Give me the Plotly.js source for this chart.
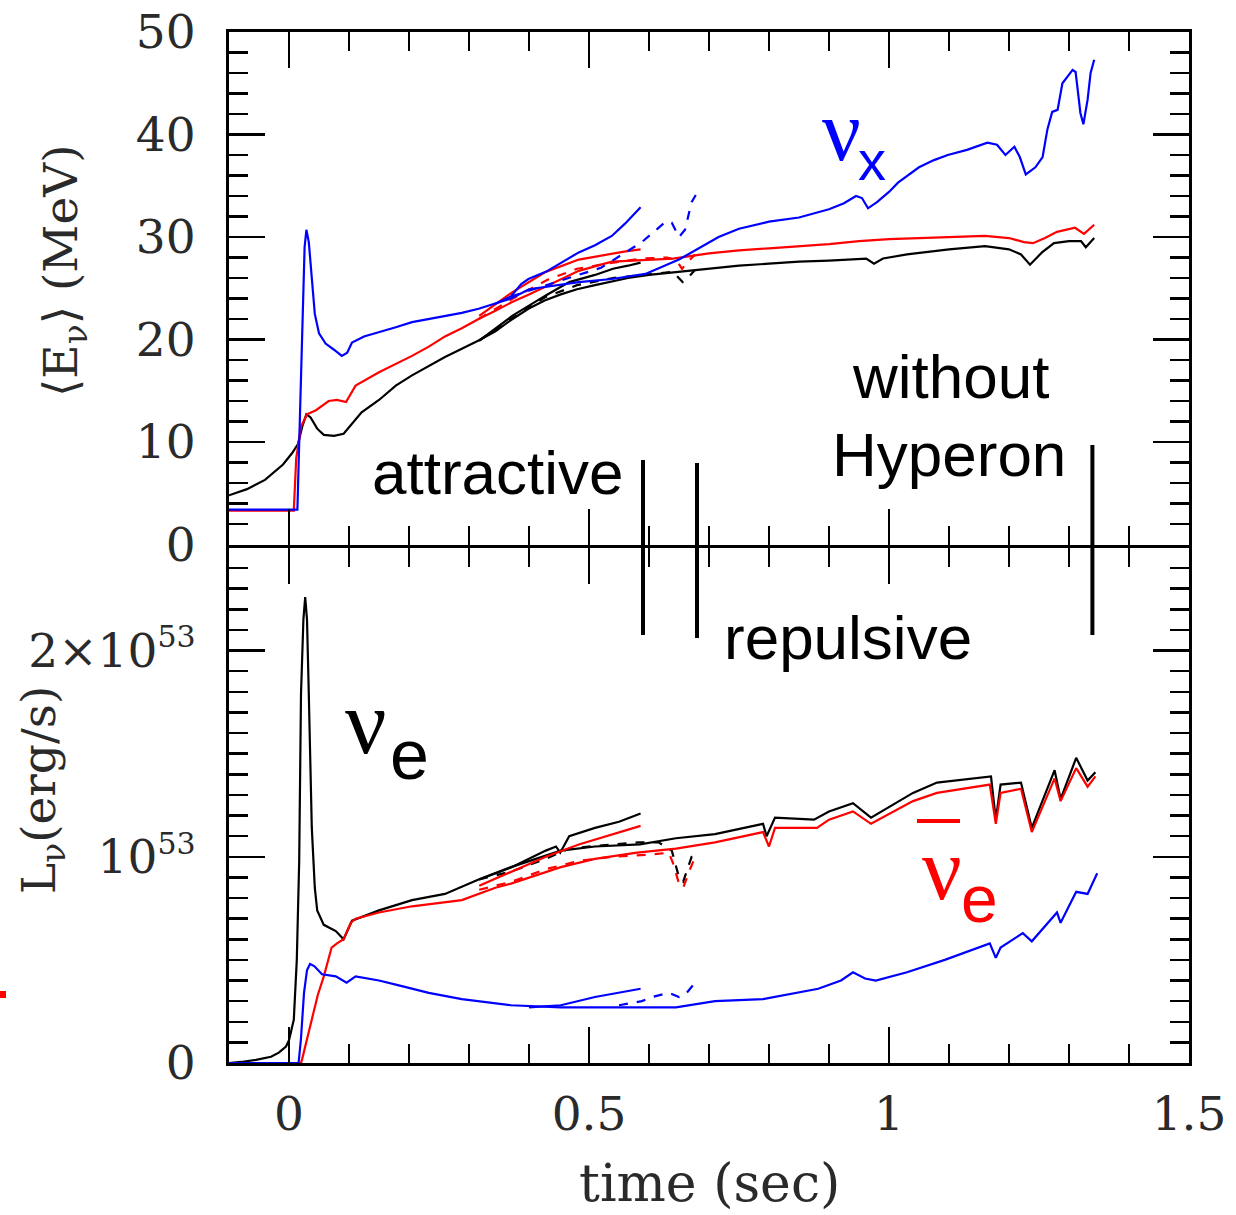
<!DOCTYPE html>
<html><head><meta charset="utf-8">
<script src="https://cdn.plot.ly/plotly-3.0.1.min.js"></script>
<style>html,body{margin:0;padding:0;background:#fff}</style>
</head><body><div id="chart" style="width:1236px;height:1215px"></div>
<script>
// ---------------- DATA ----------------
// Collapse (black-hole formation) times marked by vertical bars
const collapseTimes = [0.59, 0.68, 1.339];

// Mean energy <E> (MeV): nu_e (black)
const tE_nue_noHyp = [-0.1,-0.07,-0.04,-0.01,0.005,0.015,0.022,0.029,0.036,0.047,0.058,0.075,0.091,0.103,0.121,0.15,0.178,0.205,0.233,0.26,0.288,0.316,0.344,0.37,0.399,0.426,0.453,0.48,0.51,0.54,0.565,0.6,0.65,0.7,0.75,0.8,0.85,0.9,0.95,0.962,0.975,0.99,1.03,1.1,1.16,1.2,1.22,1.235,1.255,1.275,1.3,1.32,1.328,1.335,1.342];
const E_nue_noHyp  = [4.8,5.4,6.3,7.8,8.9,9.8,11.5,12.7,12.4,11.3,10.7,10.6,10.8,11.6,12.9,14.1,15.5,16.5,17.4,18.3,19.1,19.9,20.8,21.9,23.0,23.8,24.4,24.9,25.3,25.7,26.0,26.3,26.6,26.9,27.2,27.4,27.6,27.7,27.9,27.9,27.4,27.9,28.3,28.8,29.1,28.8,28.3,27.3,28.5,29.4,29.6,29.6,29.0,29.5,29.9];
const tE_nue_attr = [0.317,0.372,0.428,0.445,0.452,0.467,0.51,0.54,0.565,0.586];
const E_nue_attr  = [19.9,22.3,24.3,24.9,25.1,25.6,26.3,26.9,27.2,27.5];
const tE_nue_rep  = [0.317,0.37,0.426,0.48,0.54,0.6,0.64,0.656,0.666,0.677];
const E_nue_rep   = [19.9,22.0,24.1,25.3,26.0,26.4,26.6,25.6,26.1,26.8];

// Mean energy: anti-nu_e (red)
const tE_anue_noHyp = [-0.1,0.008,0.012,0.02,0.03,0.045,0.066,0.08,0.095,0.111,0.15,0.178,0.205,0.233,0.26,0.288,0.316,0.344,0.37,0.4,0.428,0.483,0.538,0.594,0.64,0.7,0.75,0.8,0.85,0.9,0.95,1.0,1.05,1.1,1.16,1.2,1.225,1.24,1.26,1.28,1.31,1.325,1.342];
const E_anue_noHyp  = [3.3,3.3,8.4,11.5,12.7,13.1,14.0,14.1,13.9,15.5,16.8,17.6,18.4,19.3,20.3,21.1,22.0,22.8,23.6,24.4,25.2,26.7,27.6,27.8,27.9,28.4,28.7,28.9,29.1,29.3,29.6,29.8,29.9,30.0,30.1,29.9,29.5,29.4,29.9,30.5,30.9,30.3,31.2];
const tE_anue_attr = [0.317,0.372,0.428,0.483,0.561,0.586];
const E_anue_attr  = [22.3,24.6,26.6,27.8,28.6,28.8];
const tE_anue_rep  = [0.316,0.37,0.43,0.48,0.54,0.59,0.63,0.645,0.655,0.665,0.677];
const E_anue_rep   = [22.0,23.9,25.8,26.9,27.5,27.9,28.0,27.8,26.9,27.6,28.3];

// Mean energy: nu_x (blue)
const tE_nux_noHyp = [-0.1,0.014,0.018,0.022,0.026,0.029,0.033,0.038,0.043,0.05,0.061,0.075,0.088,0.097,0.105,0.125,0.15,0.178,0.205,0.233,0.26,0.288,0.316,0.344,0.37,0.4,0.483,0.538,0.594,0.65,0.716,0.75,0.78,0.8,0.85,0.88,0.9,0.925,0.945,0.955,0.965,0.98,1.0,1.015,1.05,1.075,1.098,1.13,1.164,1.18,1.194,1.209,1.218,1.228,1.244,1.256,1.264,1.272,1.281,1.289,1.306,1.311,1.319,1.324,1.331,1.336,1.342];
const E_nux_noHyp  = [3.4,3.4,12,22,29,30.7,29.5,26,22.5,20.6,19.6,19.0,18.4,18.7,19.7,20.3,20.7,21.2,21.7,22.0,22.3,22.6,23.0,23.5,24.0,24.9,25.6,25.9,26.4,27.8,30.0,30.8,31.2,31.5,31.9,32.4,32.7,33.3,34.0,33.8,32.8,33.4,34.4,35.3,36.8,37.5,38.0,38.5,39.2,39.0,38.0,38.8,37.8,36.1,36.8,37.8,40.5,42.2,42.4,45.0,46.3,46.1,42.1,41.0,43.4,46.0,47.3];
const tE_nux_attr = [0.344,0.37,0.387,0.399,0.428,0.455,0.483,0.51,0.538,0.56,0.586];
const E_nux_attr  = [23.5,24.2,25.4,25.9,26.6,27.5,28.5,29.2,30.1,31.3,32.9];
const tE_nux_rep  = [0.37,0.43,0.48,0.52,0.55,0.588,0.61,0.628,0.638,0.65,0.66,0.671,0.678];
const E_nux_rep   = [24.2,25.3,26.2,27.0,28.1,29.5,30.6,31.5,31.4,30.0,30.7,33.4,34.1];

// Luminosity (units of 1e53 erg/s): nu_e (black)
const tL_nue_noHyp = [-0.1,-0.08,-0.055,-0.03,-0.017,-0.005,0.0,0.008,0.013,0.017,0.02,0.024,0.027,0.03,0.033,0.038,0.043,0.047,0.058,0.078,0.091,0.105,0.15,0.205,0.26,0.316,0.37,0.4,0.453,0.51,0.585,0.645,0.71,0.79,0.796,0.81,0.875,0.9,0.94,0.97,1.04,1.08,1.17,1.178,1.186,1.22,1.238,1.276,1.286,1.312,1.331,1.344];
const L_nue_noHyp  = [0.0,0.005,0.015,0.03,0.05,0.08,0.11,0.21,0.5,0.98,1.79,2.15,2.26,2.15,1.79,1.14,0.85,0.74,0.67,0.64,0.60,0.69,0.74,0.79,0.82,0.89,0.95,0.98,1.03,1.05,1.06,1.09,1.11,1.16,1.10,1.19,1.18,1.22,1.26,1.19,1.31,1.36,1.39,1.18,1.35,1.36,1.14,1.42,1.28,1.48,1.37,1.41];
const tL_nue_attr = [0.317,0.372,0.428,0.445,0.452,0.467,0.51,0.55,0.586];
const L_nue_attr  = [0.89,0.95,1.03,1.05,1.02,1.10,1.14,1.17,1.21];
const tL_nue_rep  = [0.317,0.372,0.428,0.467,0.538,0.583,0.616,0.638,0.65,0.657,0.671,0.677];
const L_nue_rep   = [0.89,0.93,0.99,1.04,1.06,1.07,1.07,1.03,0.90,0.88,1.0,1.02];

// Luminosity: anti-nu_e (red)
const tL_anue_noHyp = [-0.1,0.02,0.022,0.03,0.038,0.048,0.058,0.065,0.071,0.08,0.091,0.103,0.111,0.15,0.205,0.288,0.344,0.37,0.4,0.453,0.51,0.58,0.645,0.71,0.79,0.8,0.81,0.88,0.9,0.94,0.97,1.04,1.08,1.168,1.178,1.186,1.22,1.238,1.276,1.286,1.312,1.331,1.344];
const L_anue_noHyp  = [0,0,0.02,0.12,0.22,0.33,0.42,0.50,0.56,0.58,0.60,0.68,0.70,0.73,0.76,0.79,0.85,0.87,0.90,0.95,0.99,1.02,1.04,1.07,1.12,1.05,1.14,1.14,1.18,1.22,1.16,1.27,1.31,1.35,1.16,1.31,1.33,1.12,1.38,1.27,1.43,1.34,1.39];
const tL_anue_attr = [0.317,0.372,0.428,0.483,0.538,0.586];
const L_anue_attr  = [0.86,0.93,1.0,1.06,1.11,1.15];
const tL_anue_rep  = [0.317,0.372,0.428,0.483,0.538,0.6,0.633,0.64,0.65,0.657,0.667,0.677];
const L_anue_rep   = [0.84,0.88,0.94,0.98,1.0,1.01,1.02,0.97,0.87,0.85,0.93,1.0];

// Luminosity: nu_x (blue)
const tL_nux_noHyp = [-0.1,0.016,0.02,0.025,0.03,0.035,0.042,0.055,0.078,0.096,0.111,0.15,0.178,0.233,0.288,0.37,0.453,0.565,0.645,0.71,0.79,0.882,0.92,0.94,0.96,0.978,1.03,1.093,1.168,1.178,1.186,1.223,1.238,1.28,1.286,1.312,1.331,1.347];
const L_nux_noHyp  = [0,0,0.12,0.34,0.45,0.48,0.47,0.43,0.42,0.39,0.42,0.40,0.38,0.34,0.31,0.28,0.27,0.27,0.27,0.30,0.31,0.36,0.40,0.44,0.41,0.40,0.44,0.50,0.58,0.51,0.56,0.63,0.59,0.73,0.68,0.83,0.82,0.92];
const tL_nux_attr = [0.40,0.453,0.51,0.55,0.586];
const L_nux_attr  = [0.27,0.28,0.32,0.34,0.36];
const tL_nux_rep  = [0.55,0.588,0.605,0.633,0.65,0.66,0.677];
const L_nux_rep   = [0.28,0.30,0.32,0.34,0.32,0.33,0.39];

// Axis ticks
const xTickVals = [0, 0.5, 1, 1.5];
const xTickText = ['0', '0.5', '1', '1.5'];
const eTickVals = [0, 10, 20, 30, 40, 50];
const eTickText = ['0', '10', '20', '30', '40', '50'];
const lTickVals = [0, 1, 2];
const lTickText = ['0', '10<sup><span style="font-size:30px">53</span></sup>', '2×10<sup><span style="font-size:30px">53</span></sup>'];

// ---------------- STYLE / LAYOUT ----------------
const BLACK = '#000000', RED = '#ff0000', BLUE = '#0000ff';
const PL = 229, PR = 1189, PT = 32, PB = 1063;
const fx = p => (p - PL) / (PR - PL);
const fy = p => (PB - p) / (PB - PT);
// panels meet at y=546; offset so the two frame lines merge into one
const splitLow = fy(547.5), splitHigh = fy(544.5);

function tr(x, y, color, dash, top) {
  return {x: x, y: y, type: 'scatter', mode: 'lines',
    xaxis: top ? 'x2' : 'x', yaxis: top ? 'y2' : 'y',
    line: {color: color, width: 2.2, dash: dash || 'solid'},
    hoverinfo: 'skip', showlegend: false};
}

const traces = [
  tr(tE_nue_noHyp, E_nue_noHyp, BLACK, 'solid', true),
  tr(tE_nue_attr, E_nue_attr, BLACK, 'solid', true),
  tr(tE_nue_rep, E_nue_rep, BLACK, 'dash', true),
  tr(tE_anue_noHyp, E_anue_noHyp, RED, 'solid', true),
  tr(tE_anue_attr, E_anue_attr, RED, 'solid', true),
  tr(tE_anue_rep, E_anue_rep, RED, 'dash', true),
  tr(tE_nux_noHyp, E_nux_noHyp, BLUE, 'solid', true),
  tr(tE_nux_attr, E_nux_attr, BLUE, 'solid', true),
  tr(tE_nux_rep, E_nux_rep, BLUE, 'dash', true),
  tr(tL_nue_noHyp, L_nue_noHyp, BLACK, 'solid', false),
  tr(tL_nue_attr, L_nue_attr, BLACK, 'solid', false),
  tr(tL_nue_rep, L_nue_rep, BLACK, 'dash', false),
  tr(tL_anue_noHyp, L_anue_noHyp, RED, 'solid', false),
  tr(tL_anue_attr, L_anue_attr, RED, 'solid', false),
  tr(tL_anue_rep, L_anue_rep, RED, 'dash', false),
  tr(tL_nux_noHyp, L_nux_noHyp, BLUE, 'solid', false),
  tr(tL_nux_attr, L_nux_attr, BLUE, 'solid', false),
  tr(tL_nux_rep, L_nux_rep, BLUE, 'dash', false)
];

const tickFont = {family: 'DejaVu Serif', size: 47, color: '#2a2a2a'};
const minorTicks = d => ({tickmode: 'linear', tick0: 0, dtick: d, ticks: 'inside', ticklen: 19, tickwidth: 2.5, tickcolor: '#000'});
const axCommon = {
  showline: true, linewidth: 3, linecolor: '#000', mirror: 'allticks',
  ticks: 'inside', tickcolor: '#000', tickwidth: 2.5, ticklen: 36,
  showgrid: false, zeroline: false, tickfont: tickFont
};

const layout = {
  width: 1236, height: 1215,
  margin: {l: PL, r: 1236 - PR, t: PT, b: 1215 - PB},
  paper_bgcolor: '#fff', plot_bgcolor: '#fff',
  showlegend: false,
  xaxis: Object.assign({}, axCommon, {
    domain: [0, 1], anchor: 'y', range: [-0.1, 1.5],
    tickmode: 'array', tickvals: xTickVals, ticktext: xTickText,
    ticklabelstandoff: 8, minor: minorTicks(0.1)
  }),
  xaxis2: Object.assign({}, axCommon, {
    domain: [0, 1], anchor: 'y2', range: [-0.1, 1.5], matches: 'x',
    tickmode: 'array', tickvals: xTickVals, showticklabels: false,
    minor: minorTicks(0.1)
  }),
  yaxis: Object.assign({}, axCommon, {
    domain: [0, splitLow], anchor: 'x', range: [0, 2.5],
    tickmode: 'array', tickvals: lTickVals, ticktext: lTickText,
    ticklabelstandoff: 21, minor: minorTicks(0.1)
  }),
  yaxis2: Object.assign({}, axCommon, {
    domain: [splitHigh, 1], anchor: 'x2', range: [0, 50],
    tickmode: 'array', tickvals: eTickVals, ticktext: eTickText,
    ticklabelstandoff: 21, minor: minorTicks(2)
  }),
  shapes: [
    {type: 'line', xref: 'x', yref: 'paper', x0: collapseTimes[0], x1: collapseTimes[0], y0: fy(635), y1: fy(460), line: {color: '#000', width: 4}},
    {type: 'line', xref: 'x', yref: 'paper', x0: collapseTimes[1], x1: collapseTimes[1], y0: fy(638), y1: fy(463), line: {color: '#000', width: 4}},
    {type: 'line', xref: 'x', yref: 'paper', x0: collapseTimes[2], x1: collapseTimes[2], y0: fy(635), y1: fy(445), line: {color: '#000', width: 4}},
    // overbar of anti-nu_e label
    {type: 'line', xref: 'paper', yref: 'paper', x0: fx(917), x1: fx(960), y0: fy(821), y1: fy(821), line: {color: RED, width: 4}},
    // small red mark at left edge
    {type: 'rect', xref: 'paper', yref: 'paper', x0: fx(0), x1: fx(6), y0: fy(998), y1: fy(991), fillcolor: RED, line: {width: 0}}
  ],
  annotations: []
};

function ann(text, px, py, font, extra) {
  return Object.assign({text: text, xref: 'paper', yref: 'paper', x: fx(px), y: fy(py),
    xanchor: 'center', yanchor: 'middle', showarrow: false, font: font}, extra || {});
}
const sans = (s, c) => ({family: 'Liberation Sans, Arial', size: s, color: c || '#000'});
const serif = (s, c) => ({family: 'Liberation Serif, Times New Roman', size: s, color: c || '#000'});
const dv = (s, c) => ({family: 'DejaVu Serif', size: s, color: c || '#2a2a2a'});

layout.annotations.push(
  ann('attractive', 498, 472, sans(62)),
  ann('without', 950, 376, sans(62)),
  ann('Hyperon', 949, 454, sans(62)),
  ann('repulsive', 848, 637, sans(62)),
  ann('ν', 841, 131, serif(86, BLUE)),
  ann('x', 872, 160, sans(56, BLUE)),
  ann('ν', 366, 722, serif(92)),
  ann('e', 409, 755, sans(70)),
  ann('ν', 942, 869, serif(88, RED)),
  ann('e', 979, 899, sans(66, RED)),
  ann('time (sec)', 709, 1215, dv(52), {yanchor: 'bottom'}),
  ann('⟨E<sub>ν</sub>⟩ (MeV)', 64, 271, dv(47), {textangle: -90}),
  ann('L<sub>ν</sub>(erg/s)', 42, 790, dv(47), {textangle: -90})
);

Plotly.newPlot('chart', traces, layout, {staticPlot: true, displayModeBar: false});
</script></body></html>
